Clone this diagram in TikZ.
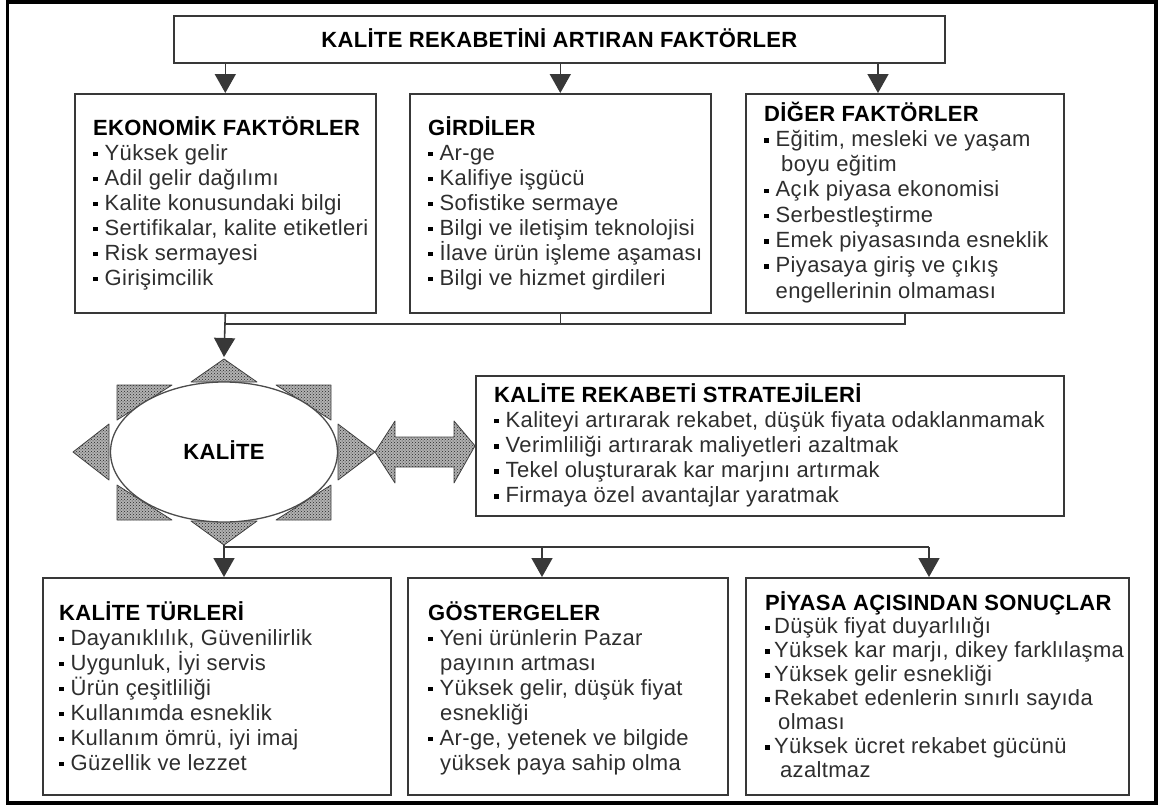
\documentclass[tikz,border=0pt]{standalone}
\usepackage{fontspec}
\setmainfont{Liberation Sans}[LetterSpace=1.5]
\usetikzlibrary{arrows.meta,patterns,shapes.geometric}

% square bullet, item line, continuation line, bold heading
\newlength\bulgap
\setlength\bulgap{11.5pt}
\newcommand\bul{\makebox[\bulgap][l]{\color{black}\rule[3.8pt]{4.6pt}{4.6pt}}}
\newcommand\itm{\par\noindent\bul}
\newcommand\cont[1][11.5pt]{\par\noindent\hspace*{#1}}
\newcommand\hd[1]{\noindent{\bfseries\color{black}#1}}
% block of lines with a given line spacing
\newcommand\txtblock[2]{\begin{minipage}[t]{620pt}\fontsize{22}{#1}\selectfont #2\end{minipage}}

\begin{document}
\begin{tikzpicture}[x=1pt,y=-1pt,
  box/.style={draw=black!78, line width=1.6pt, rectangle, inner sep=0pt, fill=white, anchor=north west},
  txt/.style={inner sep=0pt, anchor=base west, text=black!82, font={\fontsize{22}{25}\selectfont}},
  conn/.style={draw=black!78, line width=1.6pt},
  arr/.style={conn, -{Triangle[length=19pt,width=21pt]}},
  dotfill/.style={preaction={fill=black!30}, pattern=crosshatch dots, pattern color=black!85,
                  draw=black!75, line width=0.8pt, line join=round}
]
\useasboundingbox (0,0) rectangle (1163,807);

% outer frame
\draw[line width=3.5pt] (7.5,2) rectangle (1156,803);

% heading box
\node[box, minimum width=771pt, minimum height=47pt, font={\fontsize{22}{25}\selectfont\bfseries},
      text height=15.8pt, text depth=0pt] (top) at (173,15) {KALİTE REKABETİNİ ARTIRAN FAKTÖRLER};

% upper factor boxes
\node[box, minimum width=301pt, minimum height=219pt] (eko) at (74,93) {};
\node[box, minimum width=301pt, minimum height=219pt] (gir) at (409,93) {};
\node[box, minimum width=318pt, minimum height=219pt] (dig) at (745,93) {};

\node[txt] (ekot) at (93,135) {\txtblock{25}{%
  \hd{EKONOMİK FAKTÖRLER}
  \itm Yüksek gelir
  \itm Adil gelir dağılımı
  \itm Kalite konusundaki bilgi
  \itm Sertifikalar, kalite etiketleri
  \itm Risk sermayesi
  \itm Girişimcilik}};

\node[txt] (girt) at (428,135) {\txtblock{25}{%
  \hd{GİRDİLER}
  \itm Ar-ge
  \itm Kalifiye işgücü
  \itm Sofistike sermaye
  \itm Bilgi ve iletişim teknolojisi
  \itm İlave ürün işleme aşaması
  \itm Bilgi ve hizmet girdileri}};

\node[txt] (digt) at (764,121) {\txtblock{25.3}{%
  \hd{DİĞER FAKTÖRLER}
  \itm Eğitim, mesleki ve yaşam
  \cont[17pt]boyu eğitim
  \itm Açık piyasa ekonomisi
  \itm Serbestleştirme
  \itm Emek piyasasında esneklik
  \itm Piyasaya giriş ve çıkış
  \cont engellerinin olmaması}};

% arrows from the heading
\coordinate (d3) at (878,93);
\draw[arr] (top.south -| eko.north) -- (eko.north);
\draw[arr] (top.south -| gir.north) -- (gir.north);
\draw[arr] (top.south -| d3) -- (d3);

% the quality hub: rays, ellipse
\coordinate (ktop) at (224,359);
\coordinate (kin) at (224,357);
\coordinate (kbot) at (224,545);
\coordinate (kright) at (375,452);
\draw[dotfill] (ktop) -- (257,382) -- (191,382) -- cycle;
\draw[dotfill] (kbot) -- (257,521) -- (191,521) -- cycle;
\draw[dotfill] (73,452) -- (109,424) -- (109,480) -- cycle;
\draw[dotfill] (kright) -- (338,424) -- (338,480) -- cycle;
\draw[dotfill] (117,385) -- (172,385) -- (117,420) -- cycle;
\draw[dotfill] (331,385) -- (276,385) -- (331,420) -- cycle;
\draw[dotfill] (117,520) -- (172,520) -- (117,485) -- cycle;
\draw[dotfill] (331,520) -- (276,520) -- (331,485) -- cycle;
\node[ellipse, draw=black!70, line width=1.3pt, fill=white, minimum width=227pt, minimum height=140pt,
      inner sep=0pt, font={\fontsize{22}{25}\selectfont\bfseries}, text height=15.8pt, text depth=0pt]
      (kal) at (224,452) {KALİTE};

% joining bar under the factor boxes
\coordinate (bar1) at (224,324);
\draw[conn] (dig.south) |- (bar1);
\draw[conn] (gir.south) -- (gir.south |- bar1);
\draw[arr] (eko.south) -- (kin);

% strategies box and the two-way arrow
\node[box, minimum width=588pt, minimum height=140pt] (str) at (475,375) {};
\node[txt] (strt) at (494,402) {\txtblock{25.2}{%
  \hd{KALİTE REKABETİ STRATEJİLERİ}
  \itm Kaliteyi artırarak rekabet, düşük fiyata odaklanmamak
  \itm Verimliliği artırarak maliyetleri azaltmak
  \itm Tekel oluşturarak kar marjını artırmak
  \itm Firmaya özel avantajlar yaratmak}};
\draw[dotfill] (kright) -- (395,421) -- (395,437) -- (454,437) -- (454,421) -- (str.west)
  -- (454,483) -- (454,467) -- (395,467) -- (395,483) -- cycle;

% lower result boxes
\node[box, minimum width=348pt, minimum height=217pt] (tur) at (42,577) {};
\node[box, minimum width=320pt, minimum height=217pt] (gos) at (407,577) {};
\node[box, minimum width=383pt, minimum height=217pt] (pia) at (745,577) {};

\node[txt] (turt) at (59,620) {\txtblock{25}{%
  \hd{KALİTE TÜRLERİ}
  \itm Dayanıklılık, Güvenilirlik
  \itm Uygunluk, İyi servis
  \itm Ürün çeşitliliği
  \itm Kullanımda esneklik
  \itm Kullanım ömrü, iyi imaj
  \itm Güzellik ve lezzet}};

\node[txt] (gost) at (428,620) {\txtblock{25}{%
  \hd{GÖSTERGELER}
  \itm Yeni ürünlerin Pazar
  \cont[12pt]payının artması
  \itm Yüksek gelir, düşük fiyat
  \cont[12pt]esnekliği
  \itm Ar-ge, yetenek ve bilgide
  \cont[12pt]yüksek paya sahip olma}};

\node[txt] (piat) at (765,610) {\setlength\bulgap{9pt}\txtblock{23.9}{%
  \hd{PİYASA AÇISINDAN SONUÇLAR}
  \itm Düşük fiyat duyarlılığı
  \itm Yüksek kar marjı, dikey farklılaşma
  \itm Yüksek gelir esnekliği
  \itm Rekabet edenlerin sınırlı sayıda
  \cont[13pt]olması
  \itm Yüksek ücret rekabet gücünü
  \cont[15pt]azaltmaz}};

% joining bar above the result boxes
\coordinate (b2a) at (542,547);
\coordinate (b2b) at (929,547);
\draw[conn] (kbot |- b2a) -- (b2b);
\draw[arr] (kbot) -- (kbot |- tur.north);
\draw[arr] (b2a) -- (b2a |- gos.north);
\draw[arr] (b2b) -- (b2b |- pia.north);
\end{tikzpicture}
\end{document}
